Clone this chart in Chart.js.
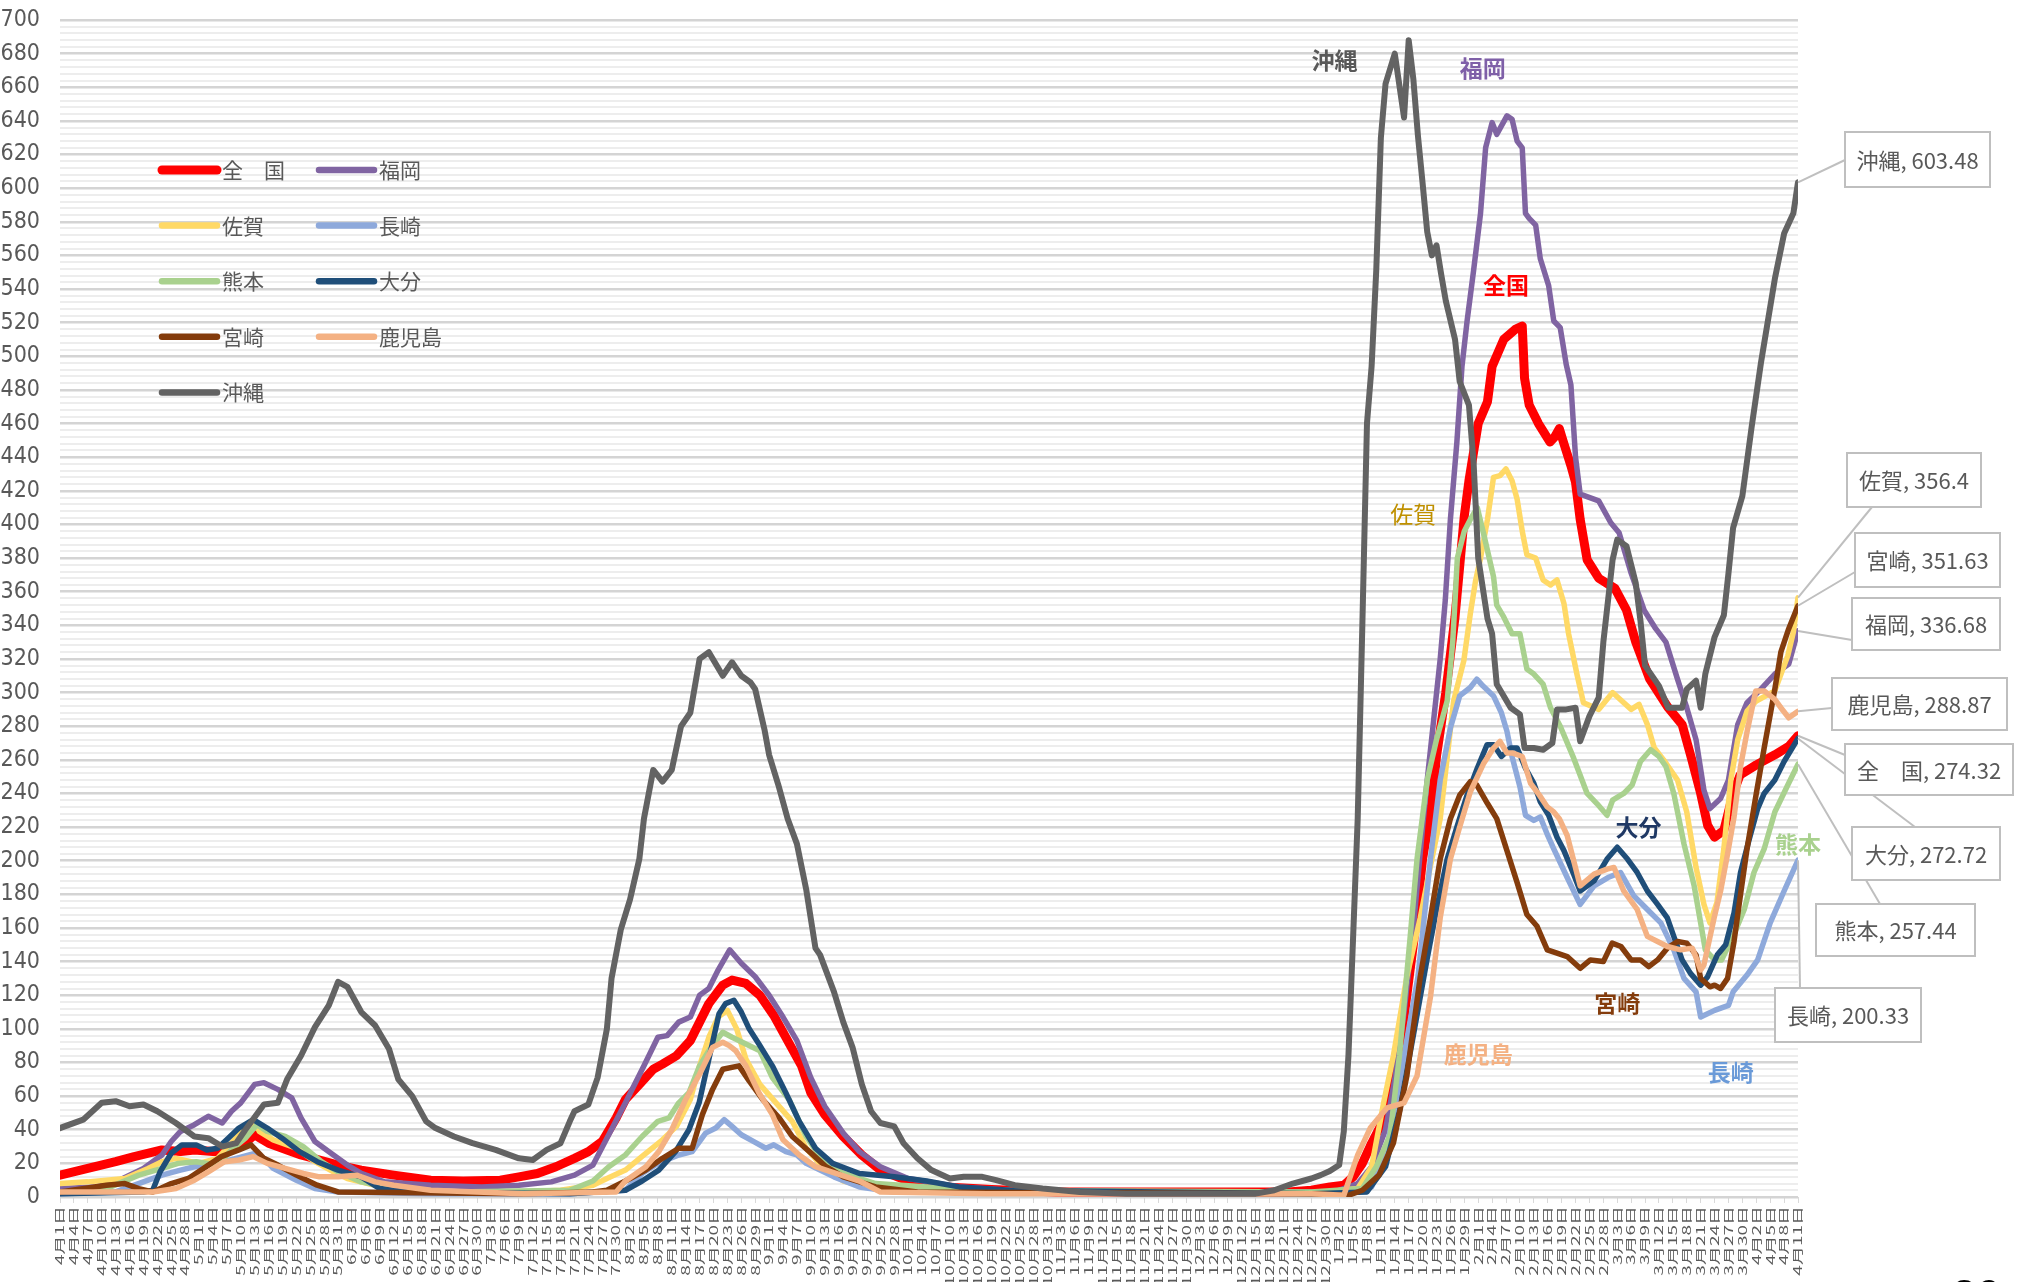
<!DOCTYPE html>
<html>
<head>
<meta charset="utf-8">
<script src="https://cdn.jsdelivr.net/npm/chart.js@4"></script>
<style>
  html, body { margin: 0; padding: 0; background: #fff; overflow: hidden; }
  #wrap { position: relative; width: 2017px; height: 1282px; }
  #page { position: absolute; left: 1952px; top: 1271px; font: bold 44px "Liberation Sans", sans-serif; color: #000; }
</style>
</head>
<body>
<div id="wrap">
  <canvas id="c" width="2017" height="1282"></canvas>
  <div id="page">20</div>
</div>
<script>
// daily values, day 0 = 2021/4/1, last day = 2022/4/11
const START = [2021, 4, 1];
const LAST_DAY = 375;

const names = ["全\u3000国", "福岡", "佐賀", "長崎", "熊本", "大分", "宮崎", "鹿児島", "沖縄"];
const colors = ["#FF0000", "#8064A2", "#FFD966", "#8EA9DB", "#A9D18E", "#1F4E79", "#843C0C", "#F4B183", "#636363"];

const zenkoku = [[0,13],[6,17],[12,21],[16,24],[22,28],[26,27],[29,28],[33,27],[36,27],[39,30],[42,37],[45,32],[49,28],[52,25],[56,22],[60,19],[65,16],[72,13],[80,10],[87,9.5],[95,10],[99,12],[103,14],[107,18],[111,23],[114,27],[117,33],[120,47],[122,58],[125,67],[128,76],[130,79],[133,84],[136,93],[138,104],[140,115],[143,126],[145,129],[148,127],[151,120],[154,108],[157,93],[160,78],[162,62],[165,49],[169,36],[173,25],[177,16],[183,9.5],[191,6],[201,4.5],[215,3],[240,3],[265,3],[270,4],[274,6],[277,7],[279,12],[281,20],[283,32],[286,48],[288,74],[290,107],[292,150],[294,201],[296,234],[297,262],[299,300],[301,345],[302,375],[303,405],[304,426],[306,460],[308,473],[309,494],[311.5,510],[314,516],[315.5,518],[316,487],[317,471],[319,460],[321.5,449],[322.5,452],[323.5,457],[324.5,448],[326,435],[327,425],[328,403],[329.5,379],[332,368],[335.5,362],[338,349],[340,330],[343,308],[347,291],[350,281],[352,261],[354,240],[355.5,221],[357,214],[359,218],[361,240],[362.5,251],[366,257],[370,263],[373,268],[375,274.32]];
const fukuoka = [[0,5],[8,6],[12,9],[18,17],[22,25],[24,33],[26,39],[29,43],[32,48],[35,44],[37,51],[39,56],[42,67],[44,68],[47,64],[50,59],[52,47],[55,33],[59,25],[62,19],[65,14],[70,9],[80,7],[91,6],[99,7],[106,9],[111,13],[115,19],[118,35],[122,56],[126,78],[129,95],[131,96],[133.5,104],[136,107],[138,120],[140,124],[142,135],[144.5,147],[147,139],[150,131],[153,120],[156,107],[159,93],[162,71],[165,54],[169,38],[172.5,27],[177,18],[183,11],[194,6],[205,4],[220,3],[275,3],[280,8],[283,18],[286,40],[288,70],[290,110],[292,160],[294,220],[295,248],[296.4,284],[297.8,320],[298.9,355],[300,403],[301.4,449],[302.5,494],[303.6,521],[305,551],[306.5,585],[307.6,624],[309,639],[310,632],[312.2,643],[313.3,641],[314.4,628],[315.5,624],[316.2,585],[317,582],[318.4,578],[319.4,558],[321.2,542],[322.3,521],[323.7,517],[325,495],[326,483],[327,440],[328,418],[332,414],[334.6,401],[336.4,395],[339,371],[341.8,349],[344.3,338],[346.5,330],[349,308],[351,291],[353,272],[354.7,242],[356,231],[358.3,237],[360,248],[362,281],[364,294],[367,302],[370,311],[373,317],[375,336.68]];
const saga = [[0,8],[6,9],[14,11],[19,17],[22,21],[25,23],[30,20],[34,23],[37,32],[40,41],[42,45],[43,39],[46,34],[51,29],[55,21],[59,15],[62,11],[68,7],[76,3],[100,3],[108,4],[115,7],[118,11],[122,16],[126,25],[130,34],[133,42],[136,58],[138,78],[140,95],[142,107],[144,111],[146,100],[148,82],[151,67],[154.5,56],[158,45],[161,29],[164.5,18],[169,9.5],[176,5],[190,3],[270,2],[280,5],[283,18],[285.6,56],[287.7,84],[290.6,131],[293.5,166],[295.7,197],[297.8,225],[300.7,295],[302.9,319],[304.3,347],[305.4,366],[306.5,380],[308,403],[309.3,428],[310.7,429],[312,433],[313.3,426],[314.4,415],[315.5,396],[316.5,382],[318.4,380],[320,367],[321.6,364],[323,367],[324.5,353],[325.5,335],[327.3,311],[328.7,294],[332,290],[335,300],[337,295],[339,290],[340.7,293],[342.5,281],[344,267],[346,260],[349,248],[351,229],[353,196],[354.7,174],[356,163],[357.5,175],[359,207],[360.5,248],[362,272],[364,289],[366,295],[370,301],[372.8,322],[374,336],[375,356.4]];
const nagasaki = [[0,2],[12,3],[18,9],[22,13],[26,16],[29,18],[34,20],[38,23],[42,26],[44,23],[46,17],[51,10],[55,5],[60,3],[80,2],[110,2],[122,4],[125.6,14],[129,20],[133.5,25],[136.4,27],[139.3,38],[141.5,41],[143.3,46],[145,42],[147,37],[150,32.5],[152.3,29],[154,31],[156.6,27],[159,25],[161,20],[164,16],[167,12],[172.5,6],[180,3],[270,2],[280,3],[283,6],[286,25],[290,84],[293,131],[295.7,201],[297.8,248],[300,279],[302,298],[304.3,303],[305.7,308],[307,304],[309.3,298],[311,288],[312.2,277],[313.3,262],[315,244],[316.2,227],[318,224],[319.4,226],[321,215],[322.3,207],[325.2,190],[328,174],[331,185],[334,190],[336.7,193],[339.6,179],[342.5,171],[345.4,163],[348.2,147],[350.4,130],[353,122],[354,107],[357,111],[360,114],[361,122],[364,132],[366.3,141],[369,163],[372,182],[375,200.33]];
const kumamoto = [[0,3],[10,5],[17,13],[22,17],[25.5,20],[29.4,21],[34,19],[37,28],[40,35],[42.5,43],[44.7,39],[48.6,36],[52.5,30],[56.4,21],[60,15],[65,9],[72,5],[85,3],[110,4],[115,9.5],[118.4,18],[122,25],[125.6,36],[129,45],[131.4,47],[133.5,56],[135.7,62],[138,78],[140,87],[143,98],[145,95],[148,91],[151,87],[153.7,71],[157.3,58],[161,36],[165,20],[169,14],[176,8],[187,6],[200,4],[270,3],[281,5],[284,18],[287,37],[289,84],[291.3,154],[292.8,201],[295,248],[297,272],[299.3,295],[300.5,330],[301.5,380],[303,396],[304.3,403],[305.8,410],[307.2,394],[309.3,369],[310,352],[311.5,345],[313.3,335],[315,335],[316.5,314],[318,311],[320,305],[321.6,291],[323.7,280],[326.6,261],[329.5,240],[331.6,234],[333.8,227],[335,236],[337.4,240],[339.2,245],[341,259],[343.2,266],[345,262],[346.5,256],[348.2,240],[350.4,210],[352.6,185],[354,163],[355,147],[357,141],[358.5,141],[361,155],[363.4,171],[365.5,193],[367.7,207],[370,229],[372.8,245],[375,257.44]];
const oita = [[0,2],[18,3],[20,4],[21.6,15],[24,26],[26.3,31],[29.4,31],[31.7,28],[34,29],[36.3,35],[38.6,41],[41.7,46],[44.7,41],[47.9,35],[51.7,27],[55.5,21],[60,16],[65,12],[69,5],[75,3],[110,2],[122,4],[125.6,9.5],[129.2,16],[132.8,27],[135.7,40],[137.9,56],[140,82],[142.2,109],[143.6,115],[145.4,117],[147,110],[148.7,100],[150.8,91],[153.7,78],[156.6,62],[159.5,45],[163,29],[166.7,20],[172.5,14],[180,12],[187,9.5],[194,6],[205,4],[270,2],[282,3],[286,18],[289,51],[292,96],[295,142],[297,171],[299.3,201],[301.4,220],[303.6,239],[305.8,255],[307.9,269],[309.3,269],[311,262],[313,267],[314.4,267],[316.2,255],[318,246],[319.4,235],[321.2,227],[323,214],[324.5,206],[326.6,192],[328,182],[331,188],[333.8,201],[336,208],[338.2,201],[340.3,193],[342.5,182],[344.7,174],[346.8,166],[348.2,155],[350,141],[351.8,133],[354,126],[355.5,131],[357.6,144],[359.4,150],[361.2,169],[362.6,193],[364.4,212],[366.3,231],[367.7,240],[370,248],[372,259],[375,272.72]];
const miyazaki = [[0,3],[10,7],[14,8],[17,5],[20,3],[24,8],[27.7,11],[31,17],[34.8,24],[38.6,28],[41.2,31],[44,23],[47,19],[51,13],[55.5,7],[60,3],[100,2],[115,3],[118,4],[122,9.5],[126.4,16],[130,23],[133.5,29],[136.4,29],[138.6,49],[140.8,64],[143,76],[146.5,78],[148.7,69],[151.6,58],[155.2,47],[158,36],[161.7,27],[165.3,18],[169,12],[176,6],[185,3],[270,2],[278,1],[281,4],[284.6,13],[287.7,32],[290.6,72],[293.5,131],[295.7,166],[297.8,201],[300,225],[302,239],[304.3,247],[305.7,245],[308,234],[310,225],[312.2,206],[314.4,187],[316.5,168],[318.7,161],[320.9,147],[323,145],[325.2,143],[328,136],[330.2,141],[333,140],[334.9,151],[336.8,149],[339,141],[341,141],[342.8,137],[344.7,141],[346.8,148],[349,152],[351,151],[353,144],[354,130],[356,125],[357,126],[358.3,124],[359.8,130],[361.2,152],[362.6,180],[364,207],[366,240],[367.7,267],[370,302],[371.3,324],[373,338],[375,351.63]];
const kagoshima = [[0,3],[20,3],[25,5],[29,10],[32,15],[35.5,21],[38.6,22],[41.7,24],[44.7,20],[48.6,17],[52.5,14],[56,12],[60,12],[64,13],[68,9],[72,7],[80,4],[100,2],[120,3],[122,9.5],[126.4,18],[129.2,27],[132,40],[135,58],[138,73],[140.8,89],[143,92],[144.4,90],[145.8,87],[148,78],[150.8,62],[153.7,49],[156,34],[159.5,25],[163,18],[167.4,14],[172.5,9.5],[177,3],[200,2],[270,2],[277,1],[280,25],[282.7,41],[286.3,53],[290,56],[292.8,72],[295.7,119],[297.8,166],[300,201],[302,220],[304.3,241],[307.2,258],[309.3,267],[310.7,271],[312.2,264],[313.5,264],[315.5,262],[317.3,246],[319.2,239],[320.9,232],[322.3,229],[323.5,225],[325.2,215],[328,185],[331,192],[333.8,195],[335.3,196],[337.4,182],[340.3,171],[342.5,155],[344.7,152],[346.8,149],[349.7,147],[352.2,148],[353.2,141],[354,135],[354.7,138],[356.9,166],[358.3,182],[359.8,204],[361.2,226],[362.6,256],[364.1,278],[365.9,301],[367.7,301],[370,296],[371.3,291],[373,285],[375,288.87]];
const okinawa = [[0,41],[5,46],[9,56],[12,57],[15,54],[18,55],[21,51],[25,44],[29,36],[32,35],[35,30],[38,32],[40,40],[44,55],[47,56],[49,70],[52,84],[55,101],[58,114],[60,128],[62,125],[65,110],[68,102],[71,88],[73,70],[76,60],[79,45],[81,41],[85,36],[89,32],[94,28],[99,23],[102,22],[105,28],[108,32],[110,45],[111,51],[114,55],[116,71],[118,100],[119,130],[121,159],[123,177],[125,201],[126,225],[128,254],[130,247],[132,254],[134,280],[136,288],[138,320],[140,324],[143,310],[145,318],[147,310],[149,306],[150,302],[152,278],[153,263],[155,245],[157,225],[159,210],[161,183],[163,148],[164,144],[167,122],[169,104],[171,89],[173,67],[175,51],[177,44],[180,42],[182,32],[185,23],[188,16],[192,11],[195,12],[199,12],[202,10],[206,7],[212,5],[220,3],[230,2],[258,2],[262,4],[266,8],[270,11],[272,13],[274,15.5],[276,19],[277,39],[278,84],[279,154],[280,225],[281,340],[282,460],[283,494],[284,551],[285,630],[286,662],[288,680],[290,642],[291,688],[292,665],[293,631],[294,603],[295,574],[296,560],[297,566],[298,549],[299,533],[301,510],[302,485],[304,471],[305,437],[306,380],[308,344],[309,335],[310,305],[313,291],[315,287],[316,267],[318,267],[320,266],[322,270],[323,290],[325,290],[327,291],[328,271],[330,286],[332,297],[333,330],[335,379],[336,391],[338,387],[340,365],[341,343],[342,316],[344,308],[345,304],[347,291],[350,291],[351,302],[353,307],[354,291],[355,311],[357,333],[359,346],[360,371],[361,398],[363,417],[365,458],[367,496],[370,546],[372,573],[374,585],[375,603.48]];

const series = [zenkoku, fukuoka, saga, nagasaki, kumamoto, oita, miyazaki, kagoshima, okinawa];
const lineWidths = [9, 5.5, 5.5, 5.5, 5.5, 5.5, 5.5, 5.5, 6];

// labels written inside the plot, placed by data position
const plotLabels = [
  { text: "沖縄", day: 275, value: 676, color: "#595959", bold: true },
  { text: "福岡", day: 307, value: 671, color: "#7F60A8", bold: true },
  { text: "全国", day: 312, value: 542, color: "#FF0000", bold: true },
  { text: "佐賀", day: 292, value: 406, color: "#BF9000", bold: false },
  { text: "大分", day: 340.6, value: 220, color: "#1F3864", bold: true },
  { text: "熊本", day: 375, value: 210, color: "#A9D18E", bold: true },
  { text: "宮崎", day: 336, value: 115, color: "#843C0C", bold: true },
  { text: "鹿児島", day: 306, value: 85, color: "#F4B183", bold: true },
  { text: "長崎", day: 360.5, value: 74, color: "#6A9AD8", bold: true }
];

// end-value callout boxes (series index, box rect, leader anchor)
const callouts = [
  { s: 8, x: 1845, y: 132, w: 145, h: 55, ax: 1845, ay: 160 },
  { s: 2, x: 1847, y: 453, w: 134, h: 54, ax: 1872, ay: 507 },
  { s: 6, x: 1855, y: 533, w: 145, h: 54, ax: 1855, ay: 572 },
  { s: 1, x: 1852, y: 598, w: 148, h: 52, ax: 1852, ay: 640 },
  { s: 7, x: 1832, y: 678, w: 175, h: 52, ax: 1832, ay: 708 },
  { s: 0, x: 1845, y: 744, w: 168, h: 51, ax: 1845, ay: 755 },
  { s: 5, x: 1852, y: 827, w: 148, h: 53, ax: 1915, ay: 827 },
  { s: 4, x: 1816, y: 904, w: 159, h: 52, ax: 1880, ay: 904 },
  { s: 3, x: 1775, y: 988, w: 146, h: 54, ax: 1800, ay: 988 }
];

const JP = '"Noto Sans CJK JP", "Noto Sans", sans-serif';

function dayLabel(v) {
  const d = new Date(START[0], START[1] - 1, START[2] + v);
  return (d.getMonth() + 1) + "月" + d.getDate() + "日";
}

const overlay = {
  id: "overlay",
  afterDatasetsDraw(chart) {
    const { ctx, scales: { x, y } } = chart;
    ctx.save();
    ctx.textAlign = "center";
    ctx.textBaseline = "middle";
    plotLabels.forEach((l) => {
      ctx.font = (l.bold ? "bold " : "") + "23px " + JP;
      ctx.fillStyle = l.color;
      ctx.fillText(l.text, x.getPixelForValue(l.day), y.getPixelForValue(l.value));
    });
    ctx.restore();
  },
  afterDraw(chart) {
    const { ctx, chartArea, scales: { x, y } } = chart;
    ctx.save();

    // squeezed, rotated date labels under the axis
    ctx.font = "19px " + JP;
    ctx.fillStyle = "#595959";
    ctx.textAlign = "right";
    ctx.textBaseline = "middle";
    x.ticks.forEach((t) => {
      ctx.save();
      ctx.translate(x.getPixelForValue(t.value), chartArea.bottom + 9);
      ctx.rotate(-Math.PI / 2);
      ctx.scale(1, 0.6);
      ctx.fillText(dayLabel(t.value), 0, 0);
      ctx.restore();
    });

    // legend, two columns
    ctx.font = "21px " + JP;
    ctx.textBaseline = "middle";
    ctx.lineCap = "round";
    names.forEach((n, i) => {
      const col = i % 2, row = Math.floor(i / 2);
      const lx = col ? 319 : 162;
      const ly = 170 + row * 55.6;
      ctx.strokeStyle = colors[i];
      ctx.lineWidth = i === 0 ? 9 : 6.5;
      ctx.beginPath();
      ctx.moveTo(lx, ly);
      ctx.lineTo(lx + 55, ly);
      ctx.stroke();
      ctx.fillStyle = "#595959";
      ctx.textAlign = "left";
      ctx.fillText(n, lx + 60, ly);
    });

    // leader lines
    ctx.lineCap = "butt";
    ctx.strokeStyle = "#BFBFBF";
    ctx.lineWidth = 2;
    callouts.forEach((c) => {
      const pts = series[c.s];
      const last = pts[pts.length - 1];
      const px = x.getPixelForValue(last[0]);
      const py = y.getPixelForValue(last[1]);
      ctx.beginPath();
      ctx.moveTo(px, py);
      ctx.lineTo(c.ax, c.ay);
      ctx.stroke();
    });

    // boxes
    ctx.font = "22px " + JP;
    ctx.textAlign = "center";
    callouts.forEach((c) => {
      const pts = series[c.s];
      const last = pts[pts.length - 1];
      ctx.fillStyle = "#fff";
      ctx.fillRect(c.x, c.y, c.w, c.h);
      ctx.strokeStyle = "#BFBFBF";
      ctx.strokeRect(c.x, c.y, c.w, c.h);
      ctx.fillStyle = "#595959";
      ctx.fillText(names[c.s] + ", " + last[1], c.x + c.w / 2, c.y + c.h / 2 + 1);
    });
    ctx.restore();
  }
};

new Chart(document.getElementById("c"), {
  type: "line",
  data: {
    datasets: series.map((pts, i) => ({
      label: names[i],
      data: pts.map(([d, v]) => ({ x: d, y: v })),
      borderColor: colors[i],
      backgroundColor: colors[i],
      borderWidth: lineWidths[i],
      pointRadius: 0,
      tension: 0,
      borderJoinStyle: "round",
      borderCapStyle: "round",
      order: series.length - i
    }))
  },
  options: {
    responsive: false,
    animation: false,
    layout: { padding: { top: 20, right: 219, left: 0, bottom: 0 } },
    plugins: { legend: { display: false }, tooltip: { enabled: false } },
    scales: {
      x: {
        type: "linear",
        min: 0,
        max: LAST_DAY,
        border: { display: false },
        grid: { drawOnChartArea: false, drawTicks: true, tickLength: 6, color: "#D9D9D9", lineWidth: 1 },
        ticks: { stepSize: 3, autoSkip: false, display: false },
        afterFit: (s) => { s.height = 85; s.paddingLeft = 0; s.paddingRight = 0; }
      },
      y: {
        min: 0,
        max: 700,
        border: { display: false },
        grid: {
          drawTicks: false,
          color: (c) => (c.tick.value % 20 === 0 ? "#D4D4D4" : "#EDEDED"),
          lineWidth: (c) => (c.tick.value % 20 === 0 ? 2.5 : 2)
        },
        ticks: {
          stepSize: 4,
          autoSkip: false,
          padding: 20,
          color: "#595959",
          font: { size: 23, family: '"Liberation Sans Narrow", "DejaVu Sans Condensed", sans-serif' },
          callback: (v) => (v % 20 === 0 ? v : "")
        },
        afterFit: (s) => { s.width = 60; s.paddingTop = 0; s.paddingBottom = 0; }
      }
    }
  },
  plugins: [overlay]
});
</script>
</body>
</html>
